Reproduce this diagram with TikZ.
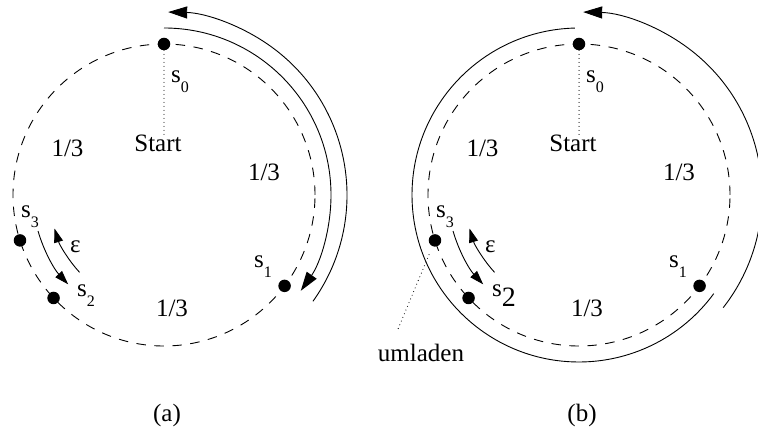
\documentclass[tikz,border=0pt]{standalone}
\usepackage{fontspec}
\setmainfont{Liberation Serif}
\usetikzlibrary{arrows.meta}
\newcommand{\lowsub}[1]{\raisebox{-9.5pt}{\fontsize{16}{16}\selectfont #1}}

\begin{document}
\begin{tikzpicture}[x=1pt,y=1pt,font=\fontsize{25}{30}\selectfont,
  ring/.style={line width=0.9pt,dash pattern=on 9.5pt off 8.5pt},
  track/.style={line width=0.9pt},
  bigtip/.style={-{Triangle[length=19pt,width=12pt]}},
  smalltip/.style={-{Triangle[length=14pt,width=9pt]}},
  dot/.style={circle,fill=black,inner sep=0pt,minimum size=12.5pt},
  lbl/.style={inner sep=0pt,anchor=base west},
  txt/.style={inner sep=0pt,anchor=base},
  pointer/.style={line width=1.1pt,line cap=round,dash pattern=on 0pt off 4pt}]
  \useasboundingbox (0,0) rectangle (758,431);
  % common parts of both panels
  \foreach \p/\cx in {a/164,b/579}{
    \begin{scope}[shift={(\cx,236)}]
      \draw[ring] (0,0) circle (151);
      \node[dot] (s0\p) at (90:151) {};
      \node[dot] (s1\p) at (-37:151) {};
      \node[dot] (s2\p) at (223:151) {};
      \node[dot] (s3\p) at (197.5:151) {};
      \node[lbl] (l0\p) at (7,112) {s\lowsub{0}};
      \node[lbl] (l1\p) at (90,-73) {s\lowsub{1}};
      \node[lbl] (l3\p) at (-143,-23) {s\lowsub{3}};
      \node[lbl] (eps\p) at (-94,-58) {ε};
      \node[txt] (start\p) at (-6,43) {Start};
      \node[txt] (pl\p) at (-96.5,38) {1/3};
      \node[txt] (pr\p) at (100,14) {1/3};
      \node[txt] (pb\p) at (8,-122) {1/3};
      \node[txt] (cap\p) at (3,-227) {(\p)};
      \draw[pointer] (s0\p) -- (s0\p |- start\p.north);
      \draw[track,smalltip] (196:131) arc[start angle=196,end angle=223,radius=131];
      \draw[track,smalltip] (222.5:114.5) arc[start angle=222.5,end angle=197,radius=114.5];
    \end{scope}
  }
  % panel (a)
  \begin{scope}[shift={(164,236)}]
    \node[lbl] (l2a) at (-87,-102) {s\lowsub{2}};
    \draw[track,bigtip] (90:167) arc[start angle=90,end angle=-35,radius=167];
    \draw[track,bigtip] (-35.5:183) arc[start angle=-35.5,end angle=88.7,radius=183];
  \end{scope}
  % panel (b)
  \begin{scope}[shift={(579,236)}]
    \node[lbl] (l2b) at (-87,-102) {s\raisebox{-10pt}{\fontsize{28}{28}\selectfont 2}};
    \draw[track] (91.4:167) arc[start angle=91.4,end angle=323.8,radius=167];
    \draw[track,bigtip] (-38:183) arc[start angle=-38,end angle=88.7,radius=183];
    \node[txt] (umladen) at (-158,-167) {umladen};
    \coordinate (umlink) at (-181,-134);
    \draw[pointer,shorten <=9pt] (s3b) -- (umlink);
  \end{scope}
\end{tikzpicture}
\end{document}
